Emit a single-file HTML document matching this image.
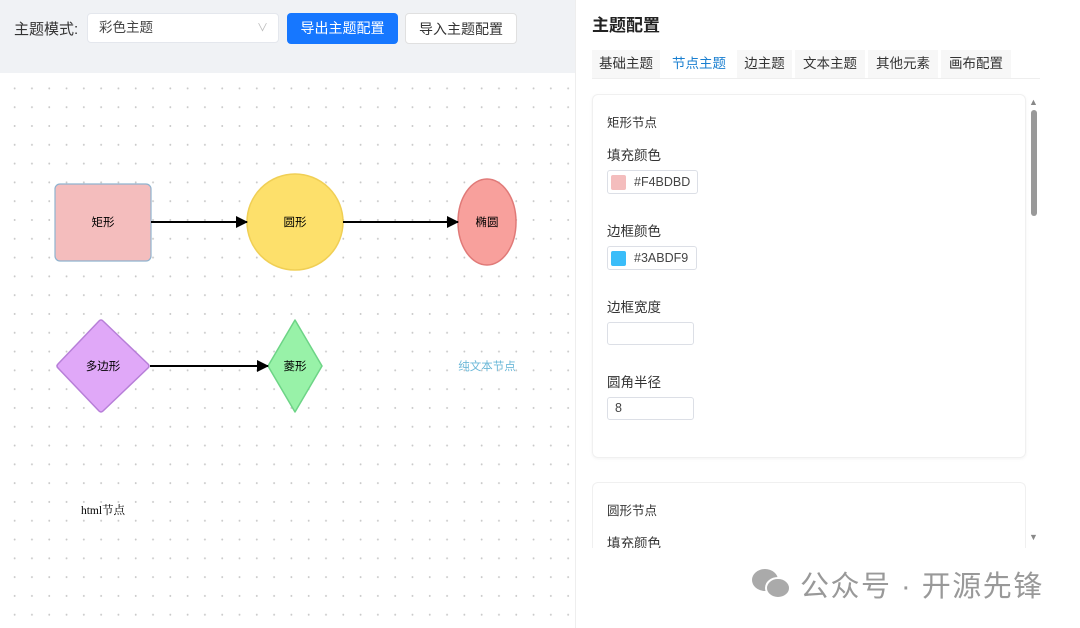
<!DOCTYPE html>
<html><head><meta charset="utf-8"><style>
*{box-sizing:border-box;margin:0;padding:0}
body{width:1080px;height:628px;overflow:hidden;background:#fff;font-family:"Liberation Sans","Noto Sans CJK SC",sans-serif;position:relative;color:#333}
.abs{position:absolute}
.hdr{left:0;top:0;width:575px;height:73px;background:#f0f2f5}
.canvas{left:0;top:73px;width:575px;height:555px;background-color:#fff;background-image:radial-gradient(circle,#c8c8c8 0.8px,transparent 1.1px);background-size:17.3px 18.8px;background-position:6px 6px}
.btn{height:31px;border-radius:4px;font-size:14px;line-height:31px;text-align:center}
.lbl{font-size:13.5px;color:#333;left:607px}
.inp{left:607px;height:23px;border:1px solid #dcdfe6;border-radius:3px;font-size:12.5px;line-height:21px;padding-left:7px;color:#444}
.tab{top:50px;height:28px;font-size:13.5px;line-height:28px;text-align:center;background:#f7f7f7;color:#333}
</style></head><body>
<div class="abs hdr"></div>
<div class="abs" style="left:14px;top:18px;font-size:15px;color:#333">主题模式:</div>
<div class="abs" style="left:87px;top:13px;width:192px;height:30px;background:#fff;border:1px solid #e4e7ed;border-radius:4px;font-size:13.5px;line-height:28px;padding-left:11px;color:#444">彩色主题<span style="position:absolute;right:10px;top:0;color:#bbb;font-size:11px">∨</span></div>
<div class="abs btn" style="left:287px;top:13px;width:111px;background:#1677ff;color:#fff">导出主题配置</div>
<div class="abs btn" style="left:405px;top:13px;width:112px;background:#fff;border:1px solid #e0e0e0;color:#333">导入主题配置</div>
<div class="abs canvas"></div>
<div class="abs" style="left:575px;top:0;width:1px;height:628px;background:#eee"></div>
<svg class="abs" style="left:0;top:0" width="575" height="628" font-family="Liberation Sans,Noto Sans CJK SC,sans-serif" font-size="11.5">
<defs><marker id="a" markerWidth="12" markerHeight="12" refX="11" refY="6" orient="auto" markerUnits="userSpaceOnUse"><path d="M0,0 L12,6 L0,12z" fill="#000"/></marker></defs>
<rect x="55" y="184" width="96" height="77" rx="5" fill="#f4bdbd" stroke="#8fb3cf" stroke-width="1.2"/>
<text x="103" y="226" text-anchor="middle">矩形</text>
<circle cx="295" cy="222" r="48" fill="#fde06b" stroke="#f0cf55" stroke-width="1.5"/>
<text x="295" y="226" text-anchor="middle">圆形</text>
<ellipse cx="487" cy="222" rx="29" ry="43" fill="#f8a09c" stroke="#e07a78" stroke-width="1.5"/>
<text x="487" y="226" text-anchor="middle">椭圆</text>
<line x1="151" y1="222" x2="247" y2="222" stroke="#000" stroke-width="2" marker-end="url(#a)"/>
<line x1="343" y1="222" x2="458" y2="222" stroke="#000" stroke-width="2" marker-end="url(#a)"/>
<path d="M103,321 L148,364 Q150,366 148,368 L103,411 Q101,413 99,411 L58,368 Q56,366 58,364 L99,321 Q101,319 103,321z" fill="#e0a8f8" stroke="#b77fd8" stroke-width="1.5"/>
<text x="103" y="370" text-anchor="middle">多边形</text>
<path d="M295,320 L322,366 L295,412 L268,366z" fill="#98f2a8" stroke="#6dd486" stroke-width="1.5" stroke-linejoin="round"/>
<text x="295" y="370" text-anchor="middle">菱形</text>
<line x1="150" y1="366" x2="268" y2="366" stroke="#000" stroke-width="2" marker-end="url(#a)"/>
<text x="487" y="370" text-anchor="middle" fill="#6bb8d8">纯文本节点</text>
<text x="103" y="514" text-anchor="middle" font-family="Liberation Serif,Noto Serif CJK SC,serif">html节点</text>
</svg>
<div class="abs" style="left:592px;top:11px;font-size:17px;font-weight:bold;color:#222">主题配置</div>
<div class="abs" style="left:592px;top:78px;width:448px;height:1px;background:#eee"></div>
<div class="abs tab" style="left:592px;width:68px">基础主题</div>
<div class="abs tab" style="left:664px;width:70px;background:#fff;color:#1a7fd0">节点主题</div>
<div class="abs tab" style="left:737px;width:55px">边主题</div>
<div class="abs tab" style="left:795px;width:70px">文本主题</div>
<div class="abs tab" style="left:868px;width:70px">其他元素</div>
<div class="abs tab" style="left:941px;width:70px">画布配置</div>
<div class="abs" style="left:592px;top:94px;width:434px;height:364px;border:1px solid #f0f0f0;border-radius:6px;box-shadow:0 1px 3px rgba(0,0,0,0.05)"></div>
<div class="abs lbl" style="top:112px;font-size:12.5px">矩形节点</div>
<div class="abs lbl" style="top:144px">填充颜色</div>
<div class="abs inp" style="left:607px;top:170px;width:91px;height:24px;padding-left:26px;line-height:22px">#F4BDBD<span style="position:absolute;left:3px;top:4px;width:15px;height:15px;background:#f4bdbd;border-radius:2px"></span></div>
<div class="abs lbl" style="top:220px">边框颜色</div>
<div class="abs inp" style="left:607px;top:246px;width:90px;height:24px;padding-left:26px;line-height:22px">#3ABDF9<span style="position:absolute;left:3px;top:4px;width:15px;height:15px;background:#3abdf9;border-radius:2px"></span></div>
<div class="abs lbl" style="top:296px">边框宽度</div>
<div class="abs inp" style="top:322px;width:87px"></div>
<div class="abs lbl" style="top:371px">圆角半径</div>
<div class="abs inp" style="top:397px;width:87px">8</div>
<div class="abs" style="left:592px;top:482px;width:434px;height:80px;border:1px solid #f0f0f0;border-radius:6px;border-bottom:none"></div>
<div class="abs lbl" style="top:500px;font-size:12.5px">圆形节点</div>
<div class="abs lbl" style="top:532px">填充颜色</div>
<div class="abs" style="left:580px;top:548px;width:470px;height:80px;background:#fff"></div>
<div class="abs" style="left:1029px;top:97px;font-size:9px;color:#888">▲</div>
<div class="abs" style="left:1031px;top:110px;width:6px;height:106px;background:#999;border-radius:3px"></div>
<div class="abs" style="left:1029px;top:532px;font-size:9px;color:#888">▼</div>
<svg class="abs" style="left:750px;top:566px" width="44" height="36"><ellipse cx="15" cy="14" rx="13" ry="11" fill="#aaa"/><ellipse cx="28" cy="22" rx="12" ry="10" fill="#aaa" stroke="#fff" stroke-width="2"/></svg>
<div class="abs" style="left:800px;top:563px;font-size:29px;color:#999;letter-spacing:1.5px">公众号 · 开源先锋</div>
</body></html>
